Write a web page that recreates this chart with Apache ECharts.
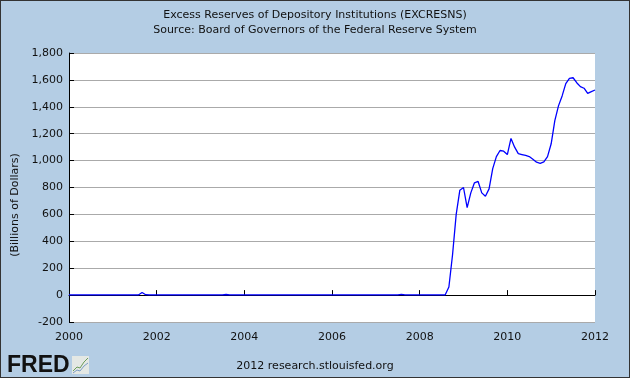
<!DOCTYPE html>
<html>
<head>
<meta charset="utf-8">
<script src="https://cdn.jsdelivr.net/npm/echarts@6/dist/echarts.min.js"></script>
<style>
  html, body { margin: 0; padding: 0; }
  #container { width: 630px; height: 378px; box-sizing: border-box; border: 1px solid #333; }
</style>
</head>
<body>
<div id="container"></div>
<script>
// monthly excess reserves, billions of dollars, Jan 2000 .. Jan 2012
let y2000 = [1.3, 1.1, 1.0, 1.2, 1.1, 1.0, 1.1, 1.1, 1.0, 1.2, 1.1, 1.3];
let y2001 = [1.4, 1.2, 1.2, 1.3, 1.1, 1.1, 1.3, 1.3, 19.0, 2.9, 1.4, 1.6];
let y2002 = [1.5, 1.3, 1.5, 1.5, 1.4, 1.4, 1.6, 1.5, 1.5, 1.7, 1.5, 1.6];
let y2003 = [1.7, 1.6, 1.7, 1.6, 1.8, 1.6, 1.6, 4.3, 1.8, 1.7, 1.6, 1.7];
let y2004 = [1.8, 1.6, 1.6, 1.8, 1.6, 1.7, 1.8, 1.7, 1.7, 1.8, 1.8, 2.0];
let y2005 = [1.8, 1.7, 1.6, 1.8, 1.7, 1.7, 1.8, 1.6, 1.9, 1.7, 1.7, 1.8];
let y2006 = [1.8, 1.7, 1.6, 1.6, 1.6, 1.8, 1.8, 1.7, 1.8, 1.7, 1.7, 1.8];
let y2007 = [1.8, 1.6, 1.6, 1.6, 1.7, 1.7, 1.7, 4.9, 1.9, 1.9, 1.8, 2.4];
let y2008 = [1.6, 1.6, 1.5, 1.8, 1.9, 2.0, 1.9, 1.9, 60, 300, 600, 780];
let y2009 = [800, 650, 760, 835, 845, 760, 735, 790, 940, 1030, 1075, 1070];
let y2010 = [1045, 1165, 1100, 1052, 1045, 1038, 1030, 1010, 988, 980, 990, 1030];
let y2011 = [1125, 1297, 1407, 1481, 1572, 1611, 1616, 1579, 1550, 1538, 1500, 1513];
let y2012 = [1525];

let startYear = 2000;
let yearTicks = ['2000', '2002', '2004', '2006', '2008', '2010', '2012'];

let values = [].concat(y2000, y2001, y2002, y2003, y2004, y2005, y2006, y2007,
  y2008, y2009, y2010, y2011, y2012);
let data = values.map((v, i) => [startYear + i / 12, v]);

var myChart = echarts.init(document.getElementById('container'));

let font = 'DejaVu Sans, Verdana, sans-serif';

let option = {
  backgroundColor: '#b4cde4',
  animation: false,
  title: {
    text: 'Excess Reserves of Depository Institutions (EXCRESNS)',
    subtext: 'Source: Board of Governors of the Federal Reserve System',
    left: 'center',
    top: 4,
    itemGap: 4,
    textStyle: { fontFamily: font, fontSize: 11, fontWeight: 'normal', color: '#111' },
    subtextStyle: { fontFamily: font, fontSize: 11, color: '#111' },
  },
  grid: {
    left: 68,
    right: 34,
    top: 52,
    bottom: 55,
    show: true,
    backgroundColor: '#fff',
    borderWidth: 0,
  },
  xAxis: {
    type: 'value',
    min: 2000,
    max: 2012,
    interval: 2,
    axisLine: { lineStyle: { color: '#000', width: 1 } },
    axisTick: { inside: true, length: 5, lineStyle: { color: '#000' } },
    splitLine: { show: false },
    axisLabel: {
      fontFamily: font,
      fontSize: 11,
      color: '#111',
      margin: 10,
      formatter: (v) => yearTicks[(v - startYear) / 2] || '',
    },
  },
  yAxis: {
    type: 'value',
    min: -200,
    max: 1800,
    interval: 200,
    axisLine: { show: true, lineStyle: { color: '#000', width: 1 } },
    axisTick: { show: true, inside: true, length: 5, lineStyle: { color: '#000' } },
    splitLine: { lineStyle: { color: '#aaa', width: 1 } },
    axisLabel: {
      fontFamily: font,
      fontSize: 11,
      color: '#111',
      margin: 6,
      formatter: (v) => v.toLocaleString('en-US'),
    },
  },
  series: [
    {
      name: 'EXCRESNS',
      type: 'line',
      data: data,
      showSymbol: false,
      lineStyle: { color: '#0000ff', width: 1.3 },
      z: 5,
    },
  ],
  graphic: [
    {
      type: 'text',
      x: 14,
      y: 204,
      rotation: Math.PI / 2,
      style: {
        text: '(Billions of Dollars)',
        fontFamily: font,
        fontSize: 11,
        fill: '#111',
        align: 'center',
        verticalAlign: 'middle',
      },
    },
    {
      type: 'text',
      left: 'center',
      top: 360,
      style: {
        text: '2012 research.stlouisfed.org',
        fontFamily: font,
        fontSize: 11,
        fill: '#111',
      },
    },
    {
      type: 'text',
      x: 6,
      y: 353,
      style: {
        text: 'FRED',
        fontFamily: 'Liberation Sans, Arial, sans-serif',
        fontSize: 23,
        fontWeight: 'bold',
        fill: '#111',
      },
    },
    {
      type: 'rect',
      shape: { x: 71, y: 355, width: 17, height: 18 },
      style: { fill: '#e4e8e4' },
    },
    {
      type: 'polyline',
      shape: { points: [[72, 370], [76, 366], [79, 367], [83, 361], [87, 357]] },
      style: { stroke: '#6c9c5c', lineWidth: 1, fill: null },
    },
    {
      type: 'polyline',
      shape: { points: [[72, 372], [76, 369], [79, 370], [83, 365], [87, 362]] },
      style: { stroke: '#7a9cc4', lineWidth: 1, fill: null },
    },
  ],
};

if (option && typeof option === 'object') {
  myChart.setOption(option);
}
</script>
</body>
</html>
